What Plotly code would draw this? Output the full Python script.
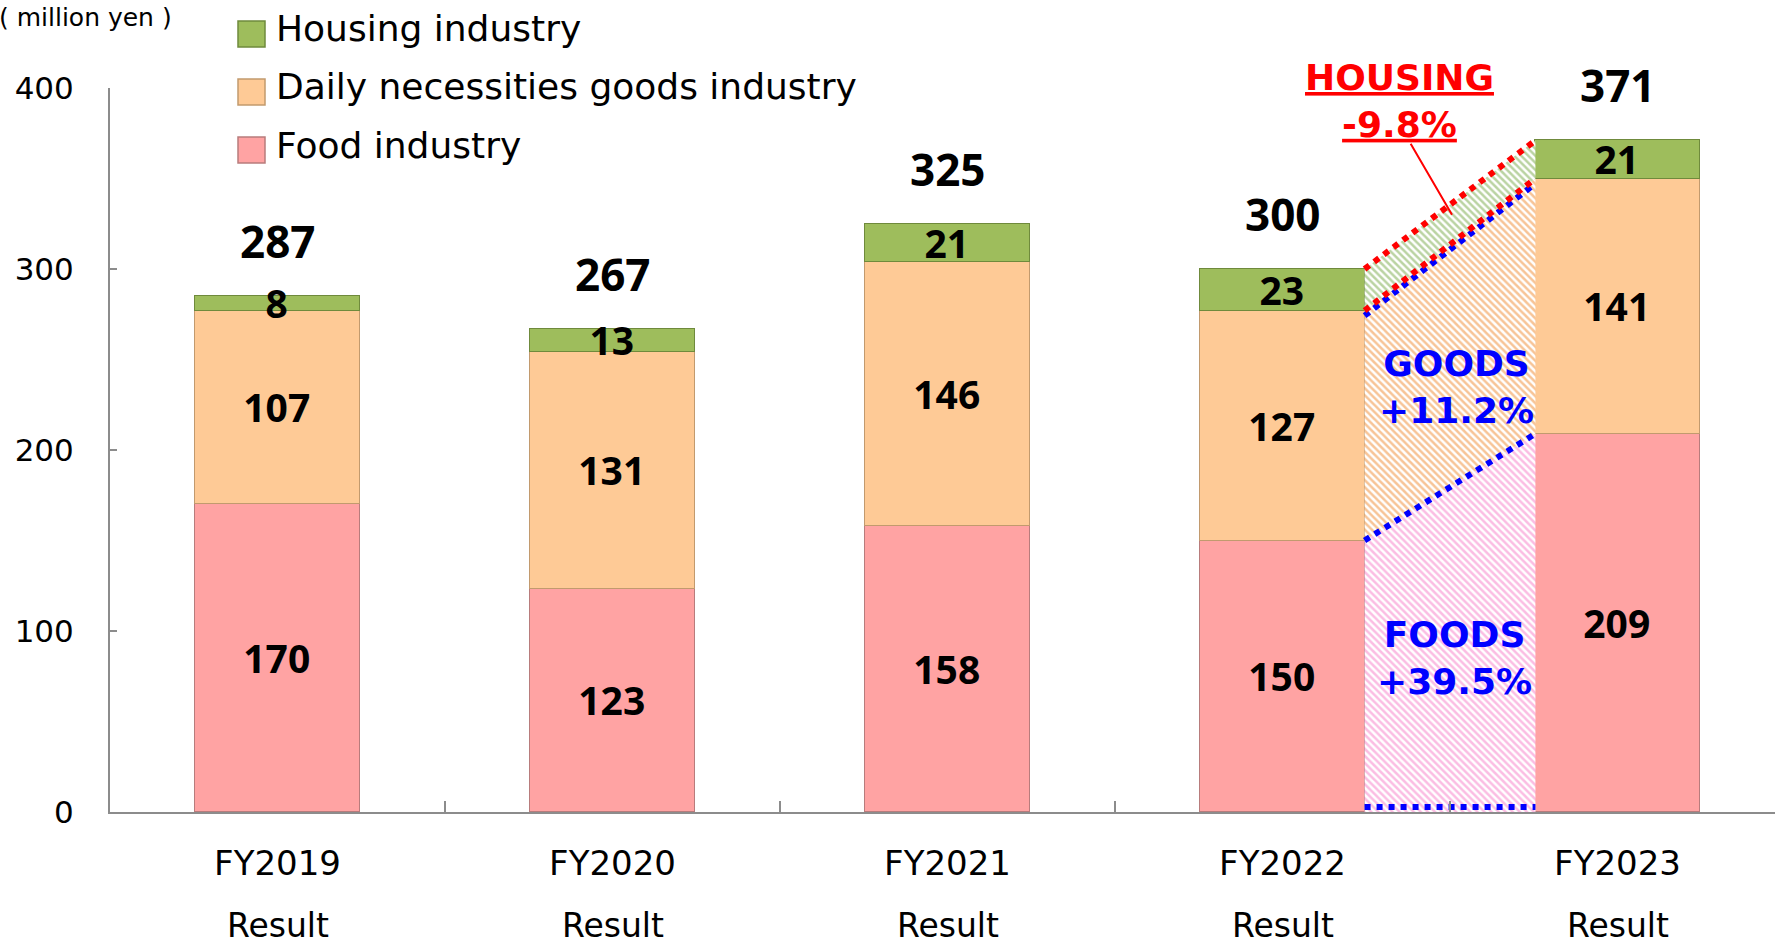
import plotly.graph_objects as go

# ---------------- data ----------------
categories = ["FY2019", "FY2020", "FY2021", "FY2022", "FY2023"]
sub_labels = ["Result", "Result", "Result", "Result", "Result"]
food = [170, 123, 158, 150, 209]
goods = [107, 131, 146, 127, 141]
housing = [8, 13, 21, 23, 21]
totals = [287, 267, 325, 300, 371]
series_names = ["Food industry", "Daily necessities goods industry", "Housing industry"]
change_labels = ["FOODS<br>+39.5%", "GOODS<br>+11.2%", "<u>HOUSING</u><br><u>-9.8%</u>"]
y_ticks = [0, 100, 200, 300, 400]
unit_label = "( million yen )"

# ---------------- styling / geometry ----------------
W, H = 1775, 944
ML, MT, MB, MR = 110, 88, 132, 0
PW, PH = W - ML - MR, H - MT - MB
CAT_PX = 335
X_RANGE = [-0.5, -0.5 + PW / CAT_PX]
BAR_W = 0.49

fills = ["#FFA3A3", "#FECA96", "#9EBD5C"]
edges = ["#B87C7C", "#C29A6E", "#6F8A3C"]
hatch_fg = ["#F77BC8", "#F08A30", "#76A846"]
AXIS_C = "#8C8C8C"
RED, BLUE = "#FF0000", "#0000FF"
REG = "DejaVu Sans"
NUM = "Noto Sans"


def px_x(v):
    return (v - ML) / PW


def px_y(v):
    return (H - MB - v) / PH


xs = list(range(len(categories)))
stack1 = food
stack2 = [a + b for a, b in zip(food, goods)]
stack3 = [a + b for a, b in zip(stack2, housing)]

fig = go.Figure()

# stacked bars
for name, vals, col, ec in zip(series_names, [food, goods, housing], fills, edges):
    fig.add_bar(
        x=xs, y=vals, width=BAR_W, name=name,
        marker=dict(color=col, line=dict(color=ec, width=1.5)),
        text=vals, texttemplate="%{text}", textposition="inside",
        insidetextanchor="middle", textangle=0,
        textfont=dict(family=NUM, size=39, color="black", weight="bold"),
        showlegend=False, hoverinfo="skip", cliponaxis=False,
    )

# hatched change areas between last two bars
i0, i1 = len(categories) - 2, len(categories) - 1
xa, xb = xs[i0] + BAR_W / 2, xs[i1] - BAR_W / 2
bands = [
    ([0, 0], [stack1[i0], stack1[i1]]),
    ([stack1[i0], stack1[i1]], [stack2[i0], stack2[i1]]),
    ([stack2[i0], stack2[i1]], [stack3[i0], stack3[i1]]),
]
for (lo, hi), fg in zip(bands, hatch_fg):
    fig.add_scatter(
        x=[xa, xb, xb, xa, xa], y=[lo[0], lo[1], hi[1], hi[0], lo[0]],
        mode="lines", fill="toself", line=dict(width=0),
        fillcolor="rgba(255,255,255,0)",
        fillpattern=dict(shape="\\", fgcolor=fg, bgcolor="white", size=5, solidity=0.5),
        showlegend=False, hoverinfo="skip",
    )

OFF = 2.8  # small visual offset (data units) for stacked dotted lines
dotted = [
    ([OFF, OFF], BLUE),
    ([stack1[i0], stack1[i1]], BLUE),
    ([stack2[i0] - OFF, stack2[i1] - OFF], BLUE),
    ([stack2[i0], stack2[i1]], RED),
    ([stack3[i0], stack3[i1]], RED),
]
for yy, c in dotted:
    fig.add_scatter(x=[xa, xb], y=yy, mode="lines",
                    line=dict(color=c, width=6, dash="dot"),
                    showlegend=False, hoverinfo="skip", cliponaxis=False)

annotations = []
# totals above bars
for x, top, t in zip(xs, stack3, totals):
    annotations.append(dict(x=x, y=top, xref="x", yref="y", text=str(t), showarrow=False,
                            yanchor="middle", yshift=55,
                            font=dict(family=NUM, size=44, color="black", weight="bold")))
# second line of category labels
for x, s in zip(xs, sub_labels):
    annotations.append(dict(x=x, y=0, xref="x", yref="y", text=s, showarrow=False,
                            yanchor="middle", yshift=-113,
                            font=dict(family=REG, size=33, color="black")))
# change labels
chg_pos = [(3.512, 85, BLUE), (3.518, 235, BLUE), (3.35, 393, RED)]
for (x, y, c), t in zip(chg_pos, change_labels):
    annotations.append(dict(x=x, y=y, xref="x", yref="y", text=t, showarrow=False,
                            font=dict(family=REG, size=36, color=c, weight="bold")))
# leader line for housing label
annotations.append(dict(x=3.506, y=330, ax=3.38, ay=370, xref="x", yref="y",
                        axref="x", ayref="y", text="", showarrow=True,
                        arrowhead=0, arrowwidth=2, arrowcolor=RED))
# unit label
annotations.append(dict(x=px_x(174), y=px_y(18), xref="paper", yref="paper",
                        text=unit_label, showarrow=False, xanchor="right", yanchor="middle",
                        font=dict(family=REG, size=25, color="black")))

# manual legend (top to bottom: housing, goods, food)
shapes = []
for k, (name, col, ec) in enumerate(zip(series_names[::-1], fills[::-1], edges[::-1])):
    cy = 34 + 58 * k
    shapes.append(dict(type="rect", xref="paper", yref="paper",
                       x0=px_x(238), x1=px_x(265), y0=px_y(cy + 13), y1=px_y(cy - 13),
                       fillcolor=col, line=dict(color=ec, width=1.5)))
    annotations.append(dict(x=px_x(274), y=px_y(cy - 5), xref="paper", yref="paper",
                            text=name, showarrow=False, xanchor="left", yanchor="middle",
                            font=dict(family=REG, size=36, color="black")))

fig.update_layout(
    width=W, height=H, autosize=False,
    margin=dict(l=ML, r=MR, t=MT, b=MB, pad=0),
    paper_bgcolor="white", plot_bgcolor="white",
    barmode="stack", bargap=0,
    showlegend=False,
    uniformtext=dict(minsize=39, mode="show"),
    annotations=annotations, shapes=shapes,
    xaxis=dict(range=X_RANGE, tickvals=xs, ticktext=categories, ticks="",
               showline=True, linecolor=AXIS_C, linewidth=2, showgrid=False, zeroline=False,
               tickfont=dict(family=REG, size=34, color="black"), ticklabelstandoff=20,
               minor=dict(tickvals=[x + 0.5 for x in xs[:-1]], ticks="inside",
                          ticklen=11, tickcolor=AXIS_C, tickwidth=1.5, showgrid=False),
               fixedrange=True),
    yaxis=dict(range=[0, 400], tickvals=y_ticks, ticks="inside", ticklen=7,
               tickcolor=AXIS_C, tickwidth=2, showline=True, linecolor=AXIS_C, linewidth=2,
               showgrid=False, zeroline=False, ticklabelstandoff=28,
               tickfont=dict(family=REG, size=31, color="black"), fixedrange=True),
)

fig.write_html("out.html", config={"displayModeBar": False},
               post_script="document.body.style.margin='0';document.body.style.overflow='hidden';")
